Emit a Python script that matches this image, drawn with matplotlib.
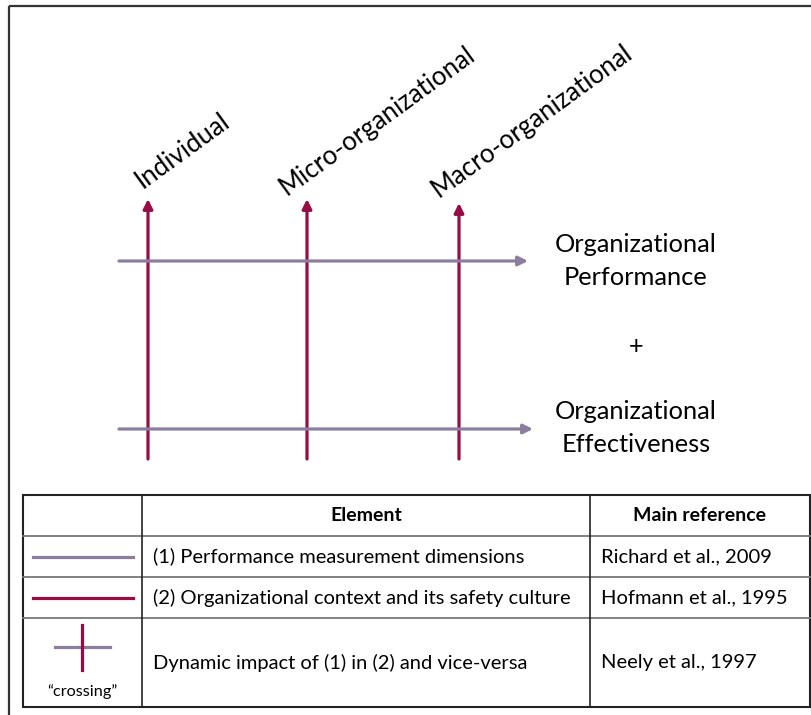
import matplotlib
matplotlib.use("Agg")
import matplotlib.pyplot as plt
from matplotlib.patches import Rectangle

plt.rcParams['font.family'] = ['Lato', 'DejaVu Sans']

# ---- content ----
levels = ["Individual", "Micro-organizational", "Macro-organizational"]
outcomes_top = "Organizational\nPerformance"
outcomes_bottom = "Organizational\nEffectiveness"
plus_sign = "+"
table_headers = ["", "Element", "Main reference"]
table_elements = ["(1) Performance measurement dimensions",
                  "(2) Organizational context and its safety culture",
                  "Dynamic impact of (1) in (2) and vice-versa"]
table_refs = ["Richard et al., 2009", "Hofmann et al., 1995", "Neely et al., 1997"]
crossing_label = "\u201ccrossing\u201d"

# ---- style ----
CRIMSON = "#970C45"
PURPLE = "#8B7D9E"
FRAME = "#333333"

W, H = 812, 715
fig = plt.figure(figsize=(W / 100, H / 100), dpi=100)
ax = fig.add_axes([0, 0, 1, 1])
ax.set_xlim(0, W)
ax.set_ylim(H, 0)
ax.axis("off")

# outer frame
ax.add_patch(Rectangle((9, 6), 820, 730, fill=False, ec=FRAME, lw=1.6))

# vertical arrows (levels)
level_x = [148, 307, 459]
level_tip = [199, 199, 203]
for x, tip in zip(level_x, level_tip):
    ax.annotate("", xy=(x, tip), xytext=(x, 459),
                arrowprops=dict(arrowstyle="-|>", lw=2.3, color=CRIMSON,
                                mutation_scale=14, shrinkA=0, shrinkB=0))

# horizontal arrows
for y, xend in [(261, 528), (429, 533)]:
    ax.annotate("", xy=(xend, y), xytext=(119, y),
                arrowprops=dict(arrowstyle="-|>", lw=2.3, color=PURPLE,
                                mutation_scale=14, shrinkA=0, shrinkB=0))

# level labels (rotated)
label_pos = [(143, 189), (287, 196), (439, 198)]
for (x, y), txt in zip(label_pos, levels):
    ax.text(x, y, txt, rotation=36, rotation_mode="anchor", ha="left",
            va="baseline", fontsize=18.5, color="black")

# outcome texts
ax.text(636, 261, outcomes_top, ha="center", va="center", fontsize=18.3,
        linespacing=1.55)
ax.text(636, 346, plus_sign, ha="center", va="center", fontsize=18.3)
ax.text(636, 428, outcomes_bottom, ha="center", va="center", fontsize=18.3,
        linespacing=1.55)

# ---- table ----
tx0, tx1, tx2, tx3 = 23, 142, 590, 810
rows = [495, 536, 577, 618, 707]
ax.add_patch(Rectangle((tx0, rows[0]), tx3 - tx0, rows[-1] - rows[0],
                       fill=False, ec="#222222", lw=1.5))
for y in rows[1:-1]:
    ax.plot([tx0, tx3], [y, y], color="#777777", lw=1.3)
for x in [tx1, tx2]:
    ax.plot([x, x], [rows[0], rows[-1]], color="#222222", lw=1.2)

hy = (rows[0] + rows[1]) / 2
ax.text((tx1 + tx2) / 2, hy, table_headers[1], ha="center", va="center",
        fontsize=14, fontweight="bold")
ax.text((tx2 + tx3) / 2, hy, table_headers[2], ha="center", va="center",
        fontsize=14, fontweight="bold")

centers = [(rows[1] + rows[2]) / 2, (rows[2] + rows[3]) / 2, (rows[3] + rows[4]) / 2]
for yc, el, rf in zip(centers, table_elements, table_refs):
    ax.text(153, yc, el, ha="left", va="center", fontsize=14.5)
    ax.text(601, yc, rf, ha="left", va="center", fontsize=14.5)

# legend symbols
ax.plot([33, 133], [centers[0], centers[0]], color=PURPLE, lw=2.3)
ax.plot([33, 133], [centers[1], centers[1]], color=CRIMSON, lw=2.3)
ax.plot([55, 110], [647, 647], color=PURPLE, lw=2.3)
ax.plot([82, 82], [625, 670], color=CRIMSON, lw=2.3)
ax.text(82, 692, crossing_label, ha="center", va="center", fontsize=11.7)

fig.savefig("out.png", dpi=100)
